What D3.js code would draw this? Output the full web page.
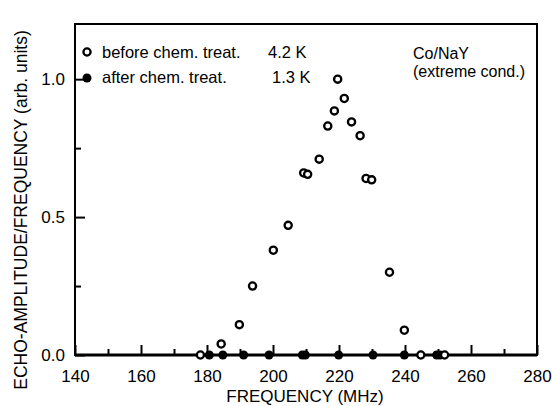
<!DOCTYPE html>
<html>
    <head>
        <title>Echo amplitude vs frequency</title>
        <script src="https://d3js.org/d3.v7.min.js" charset="utf-8"></script>
        <style>
            body {
                margin: 0;
                background: white;
            }
            text {
                font-family: "Liberation Sans", Arial, Helvetica, sans-serif;
                fill: #000;
            }
        </style>
    </head>

    <body>
        <script>
            // data
            var beforeFreq = [178, 184.3, 189.8, 193.8, 200.1, 204.6, 209.3, 210.5, 214.0, 216.6, 218.6,
                              219.6, 221.6, 223.8, 226.4, 228.2, 229.9, 235.3, 239.8, 244.8, 252.0];
            var beforeAmp  = [0.0, 0.04, 0.11, 0.25, 0.38, 0.47, 0.66, 0.655, 0.71, 0.83, 0.885,
                              1.0, 0.93, 0.845, 0.795, 0.64, 0.635, 0.30, 0.09, 0.0, 0.0];
            var afterFreq  = [180.7, 184.8, 191.1, 198.8, 208.9, 209.8, 219.9, 230.3, 239.8, 249.6, 250.6];
            var afterAmp   = [0, 0, 0, 0, 0, 0, 0, 0, 0, 0, 0];

            var xTicks = [140, 160, 180, 200, 220, 240, 260, 280];
            var xMinor = [150, 170, 190, 210, 230, 250, 270];
            var yTicks = [0.0, 0.5, 1.0];
            var yMinor = [0.25, 0.75];

            var legendLabels = ["before chem. treat.", "after chem. treat."];
            var legendTemps = ["4.2 K", "1.3 K"];

            var width = 552;
            var height = 406;

            var svg = d3.select("body")
                .append("svg")
                .attr("width", width)
                .attr("height", height);

            var x = d3.scaleLinear().domain([140, 280]).range([75, 537]);
            var y = d3.scaleLinear().domain([0, 1.2]).range([355, 24]);

            // ticks point inward
            var xAxis = svg.append("g")
                .attr("transform", "translate(0," + y(0) + ")")
                .call(d3.axisBottom(x).tickValues(xTicks).tickSize(-10).tickPadding(15).tickFormat(d3.format("d")));
            var xAxisMinor = svg.append("g")
                .attr("transform", "translate(0," + y(0) + ")")
                .call(d3.axisBottom(x).tickValues(xMinor).tickSize(-6).tickFormat(""));
            var yAxis = svg.append("g")
                .attr("transform", "translate(" + x(140) + ",0)")
                .call(d3.axisLeft(y).tickValues(yTicks).tickSize(-10).tickPadding(10).tickFormat(d3.format(".1f")));
            var yAxisMinor = svg.append("g")
                .attr("transform", "translate(" + x(140) + ",0)")
                .call(d3.axisLeft(y).tickValues(yMinor).tickSize(-6).tickFormat(""));

            svg.selectAll(".domain").remove();
            svg.selectAll(".tick line").attr("stroke", "#000").attr("stroke-width", 2);
            svg.selectAll(".tick text").style("font-size", "17px").attr("fill", "#000");

            // frame
            svg.append("rect")
                .attr("x", x(140))
                .attr("y", y(1.2))
                .attr("width", x(280) - x(140))
                .attr("height", y(0) - y(1.2))
                .attr("fill", "none")
                .attr("stroke", "#000")
                .attr("stroke-width", 2);
            svg.append("line")
                .attr("x1", x(140)).attr("x2", x(280))
                .attr("y1", y(0)).attr("y2", y(0))
                .attr("stroke", "#000")
                .attr("stroke-width", 2.8);

            // after treatment, filled
            svg.append("g").selectAll("circle")
                .data(afterFreq)
                .enter()
                .append("circle")
                .attr("cx", function(d) { return x(d); })
                .attr("cy", function(d, i) { return y(afterAmp[i]); })
                .attr("r", 4.5)
                .attr("fill", "#000");

            // before treatment, open
            svg.append("g").selectAll("circle")
                .data(beforeFreq)
                .enter()
                .append("circle")
                .attr("cx", function(d) { return x(d); })
                .attr("cy", function(d, i) { return y(beforeAmp[i]); })
                .attr("r", 3.6)
                .attr("fill", "white")
                .attr("stroke", "#000")
                .attr("stroke-width", 2.3);

            // legend
            var legend = svg.append("g");
            legend.append("circle").attr("cx", 87).attr("cy", 52).attr("r", 3.6)
                .attr("fill", "white").attr("stroke", "#000").attr("stroke-width", 2.3);
            legend.append("circle").attr("cx", 87).attr("cy", 78).attr("r", 4.5).attr("fill", "#000");
            legend.selectAll("text.lab")
                .data(legendLabels)
                .enter()
                .append("text")
                .attr("class", "lab")
                .attr("x", 102)
                .attr("y", function(d, i) { return 57.5 + i * 25.5; })
                .style("font-size", "16.5px")
                .text(function(d) { return d; });
            legend.selectAll("text.temp")
                .data(legendTemps)
                .enter()
                .append("text")
                .attr("class", "temp")
                .attr("x", function(d, i) { return i == 0 ? 268 : 272; })
                .attr("y", function(d, i) { return 57.5 + i * 25.5; })
                .style("font-size", "16.5px")
                .text(function(d) { return d; });

            svg.append("text").attr("x", 413).attr("y", 59).style("font-size", "16px").text("Co/NaY");
            svg.append("text").attr("x", 413).attr("y", 77).style("font-size", "16px").text("(extreme cond.)");

            // axis titles
            svg.append("text")
                .attr("x", 305)
                .attr("y", 402)
                .attr("text-anchor", "middle")
                .style("font-size", "17px")
                .text("FREQUENCY (MHz)");
            svg.append("text")
                .attr("transform", "translate(27,210) rotate(-90)")
                .attr("text-anchor", "middle")
                .style("font-size", "17.5px")
                .text("ECHO-AMPLITUDE/FREQUENCY (arb. units)");
        </script>
    </body>
</html>
